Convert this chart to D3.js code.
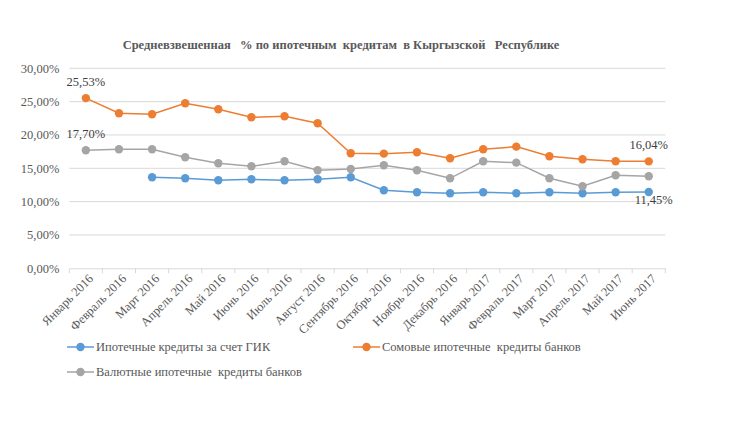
<!DOCTYPE html>
<html>
<head>
<meta charset="utf-8">
<script src="https://cdn.jsdelivr.net/npm/d3@7.9.0/dist/d3.min.js"></script>
<style>
  body { margin: 0; background: #fff; }
  svg, svg text { font-family: "Liberation Serif", "Times New Roman", Tinos, "DejaVu Serif", serif !important; }
</style>
</head>
<body>
<svg width="734" height="447"></svg>
<script>
const months = ['Январь 2016', 'Февраль 2016', 'Март 2016', 'Апрель 2016', 'Май 2016', 'Июнь 2016',
  'Июль 2016', 'Август 2016', 'Сентябрь 2016', 'Октябрь 2016', 'Ноябрь 2016', 'Декабрь 2016',
  'Январь 2017', 'Февраль 2017', 'Март 2017', 'Апрель 2017', 'Май 2017', 'Июнь 2017'];

// null = no data for that month
const gikValues = [null, null, 13.65, 13.5, 13.2, 13.35, 13.2, 13.35, 13.65,
  11.7, 11.4, 11.25, 11.4, 11.25, 11.4, 11.25, 11.4, 11.45];
const somValues = [25.53, 23.25, 23.1, 24.75, 23.85, 22.65, 22.8, 21.75, 17.25,
  17.2, 17.4, 16.5, 17.85, 18.25, 16.8, 16.35, 16.05, 16.04];
const valValues = [17.7, 17.85, 17.85, 16.65, 15.75, 15.3, 16.05, 14.7, 14.9,
  15.45, 14.7, 13.5, 16.05, 15.85, 13.5, 12.3, 13.95, 13.8];

const seriesNames = ['Ипотечные кредиты за счет ГИК', 'Сомовые ипотечные  кредиты банков', 'Валютные ипотечные  кредиты банков'];
const yTicks = [0, 5, 10, 15, 20, 25, 30];

const series = [
  { name: seriesNames[0], values: gikValues, color: '#5b9bd5' },
  { name: seriesNames[1], values: somValues, color: '#ed7d31' },
  { name: seriesNames[2], values: valValues, color: '#a5a5a5' },
];

const svg = d3.select('svg');
const ru = d3.formatLocale({ decimal: ',', thousands: ' ', grouping: [3], currency: ['', ''] });
const fmt = v => ru.format('.2f')(v) + '%';

const x = d3.scaleBand().domain(months).range([69.3, 665.3]).padding(0);
const y = d3.scaleLinear().domain([0, 30]).range([268.3, 68.3]);
const cx = d => x(d) + x.bandwidth() / 2;

// title
svg.append('text')
  .attr('x', 341).attr('y', 49)
  .attr('text-anchor', 'middle')
  .attr('font-weight', 'bold').attr('font-size', 12.5)
  .attr('fill', '#595959')
  .style('white-space', 'pre')
  .text('Средневзвешенная   % по ипотечным  кредитам  в Кыргызской   Республике');

// gridlines
svg.append('g')
  .selectAll('line')
  .data(yTicks.filter(t => t > 0))
  .join('line')
  .attr('x1', 69.3).attr('x2', 665.3)
  .attr('y1', d => y(d)).attr('y2', d => y(d))
  .attr('stroke', '#d9d9d9').attr('stroke-width', 1);

// y axis labels
const yAxis = svg.append('g')
  .attr('transform', 'translate(69.3,0)')
  .call(d3.axisLeft(y).tickValues(yTicks).tickFormat(fmt).tickSize(0).tickPadding(10));
yAxis.attr('font-family', null);
yAxis.select('.domain').remove();
yAxis.selectAll('text')
  .attr('font-size', 12.5).attr('fill', '#595959');

// x axis
const xAxis = svg.append('g')
  .attr('transform', `translate(0,${y(0)})`)
  .call(d3.axisBottom(x).tickSize(0).tickSizeOuter(0));
xAxis.attr('font-family', null);
xAxis.select('.domain').attr('stroke', '#d9d9d9');
xAxis.selectAll('text')
  .attr('font-size', 12.5).attr('fill', '#595959')
  .attr('text-anchor', 'end')
  .attr('dy', 0)
  .attr('transform', 'translate(6,9) rotate(-45)');

// boundary tick marks
xAxis.append('g')
  .selectAll('line')
  .data(months.map(m => x(m)).concat([x.range()[1]]))
  .join('line')
  .attr('x1', d => d).attr('x2', d => d)
  .attr('y1', 0).attr('y2', 5)
  .attr('stroke', '#d9d9d9');

// lines and markers
const line = d3.line()
  .defined(d => d.v != null)
  .x(d => cx(d.m))
  .y(d => y(d.v));

series.forEach(s => {
  const pts = months.map((m, i) => ({ m, v: s.values[i] }));
  const g = svg.append('g');
  g.append('path')
    .datum(pts)
    .attr('d', line)
    .attr('fill', 'none')
    .attr('stroke', s.color)
    .attr('stroke-width', 1.5);
  g.selectAll('circle')
    .data(pts.filter(d => d.v != null))
    .join('circle')
    .attr('cx', d => cx(d.m)).attr('cy', d => y(d.v))
    .attr('r', 4.2)
    .attr('fill', s.color);
});

// data labels
const labels = [
  { m: months[0], v: somValues[0], dx: 0, dy: -12 },
  { m: months[0], v: valValues[0], dx: 0, dy: -12, text: fmt(17.7) },
  { m: months[17], v: somValues[17], dx: 0, dy: -12 },
  { m: months[17], v: gikValues[17], dx: 5, dy: 12 },
];
svg.append('g')
  .selectAll('text')
  .data(labels)
  .join('text')
  .attr('x', d => cx(d.m) + d.dx)
  .attr('y', d => y(d.v) + d.dy)
  .attr('text-anchor', 'middle')
  .attr('font-size', 12.5).attr('fill', '#404040')
  .text(d => d.text || fmt(d.v));

// legend
const legendPos = [
  { x: 67, y: 347 },
  { x: 353, y: 347 },
  { x: 67, y: 372 },
];
const legend = svg.append('g')
  .selectAll('g')
  .data(series)
  .join('g')
  .attr('transform', (d, i) => `translate(${legendPos[i].x},${legendPos[i].y})`);
legend.append('line')
  .attr('x1', 0).attr('x2', 27)
  .attr('stroke', d => d.color).attr('stroke-width', 1.5);
legend.append('circle')
  .attr('cx', 13.5).attr('r', 4.2)
  .attr('fill', d => d.color);
legend.append('text')
  .attr('x', 29).attr('dy', '0.35em')
  .attr('font-size', 12.5).attr('fill', '#595959')
  .style('white-space', 'pre')
  .text(d => d.name);
</script>
</body>
</html>
